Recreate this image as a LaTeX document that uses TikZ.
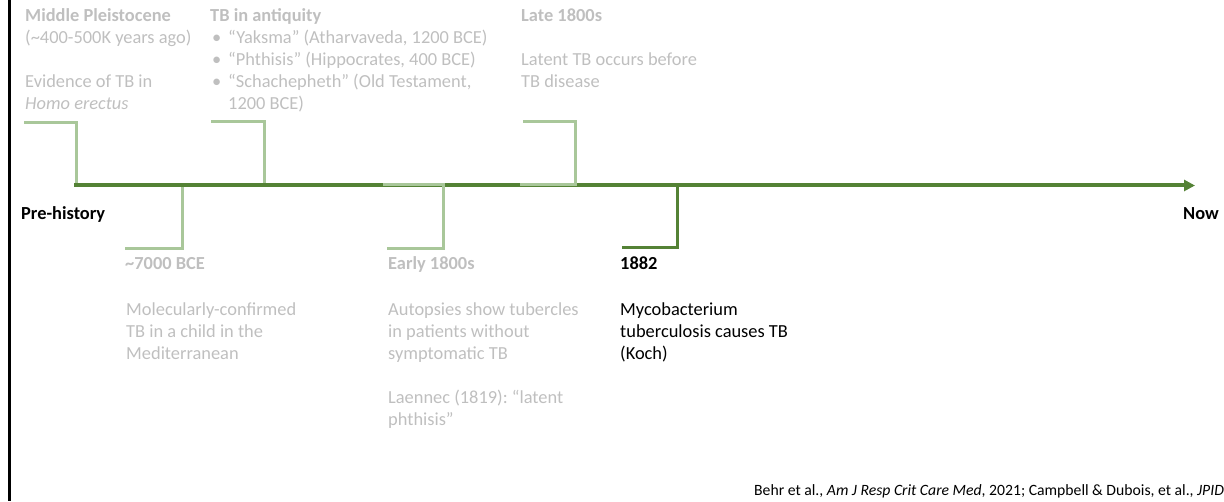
\documentclass[tikz,border=0pt]{standalone}
\usepackage{fontspec}
\setmainfont{Carlito}
\usetikzlibrary{arrows.meta}
\definecolor{axisgreen}{HTML}{548235}
\definecolor{palegreen}{HTML}{A9C79A}
\definecolor{fadedtext}{HTML}{BFBFBF}
\frenchspacing
% stacked lines whose baseline is the baseline of the first line
\newcommand{\tllines}[1]{\begin{tabular}[t]{@{}l@{}}#1\end{tabular}}
\begin{document}
\begin{tikzpicture}[x=1pt,y=-1pt,
  txt/.style={anchor=base west,inner sep=0pt,
    font=\fontsize{18.4}{22}\selectfont},
  faded/.style={txt,text=fadedtext},
  fadedhead/.style={faded,font=\fontsize{18.4}{22}\selectfont\bfseries},
  darkhead/.style={txt,text=black,font=\fontsize{18.4}{22}\selectfont\bfseries},
  axis/.style={draw=axisgreen,line width=4pt},
  palebracket/.style={draw=palegreen,line width=3pt},
  darkbracket/.style={draw=axisgreen,line width=3pt},
]
\useasboundingbox (0,0) rectangle (1224,502);
\clip (0,0) rectangle (1224,502);

% left frame edge
\coordinate (frametop) at (9.5,0);
\coordinate (framebot) at (9.5,501);
\draw[line width=3pt,black] (frametop) -- (framebot);

% anchor points of the timeline
\coordinate (start) at (74,185.5);
\coordinate (finish) at (1195,185.5);

% brackets above the axis
\coordinate (mp-tab) at (24,123);
\coordinate (mp-foot) at (76,185.5);
\coordinate (ant-tab) at (211,122);
\coordinate (ant-foot) at (264,185.5);
\coordinate (late-tab) at (523,122);
\coordinate (late-foot) at (575,185.5);
\coordinate (late-back) at (520,184.5);

% brackets below the axis
\coordinate (bce-tab) at (125,249);
\coordinate (bce-foot) at (182,185.5);
\coordinate (early-tab) at (387,249);
\coordinate (early-foot) at (443,185.5);
\coordinate (early-back) at (383,184.5);
\coordinate (koch-tab) at (622,248);
\coordinate (koch-foot) at (677,185.5);

\draw[palebracket] (mp-tab) -| (mp-foot);
\draw[palebracket] (ant-tab) -| (ant-foot);
\draw[palebracket] (bce-tab) -| (bce-foot);

% main axis
\draw[axis,-{Triangle[length=11pt,width=11pt]}] (start) -- (finish);

\draw[palebracket] (early-tab) -| (early-foot |- early-back) -- (early-back);
\draw[palebracket] (late-tab) -| (late-foot |- late-back) -- (late-back);
\draw[darkbracket] (koch-tab) -| (koch-foot);

% axis end labels
\node[darkhead] (prehistory) at (21,220) {Pre-history};
\node[darkhead] (now) at (1183,220) {Now};

% Middle Pleistocene
\node[fadedhead] (mp-head) at (25,22) {Middle Pleistocene};
\node[faded] (mp-date) at (25,44) {(\textasciitilde400-500K years ago)};
\node[faded] (mp-text) at (25,88) {\tllines{Evidence of TB in\\\itshape Homo erectus}};

% TB in antiquity
\node[fadedhead] (ant-head) at (210,22) {TB in antiquity};
\node[faded] (ant-bullets) at (212,44) {\tllines{•\\•\\•}};
\node[faded] (ant-text) at (228,44) {\tllines{“Yaksma” (Atharvaveda, 1200 BCE)\\“Phthisis” (Hippocrates, 400 BCE)\\“Schachepheth” (Old Testament,\\1200 BCE)}};

% Late 1800s
\node[fadedhead] (late-head) at (521,22) {Late 1800s};
\node[faded] (late-text) at (521,66) {\tllines{Latent TB occurs before\\TB disease}};

% ~7000 BCE
\node[fadedhead] (bce-head) at (125,270) {\textasciitilde7000 BCE};
\node[faded] (bce-text) at (126,316) {\tllines{Molecularly-confirmed\\TB in a child in the\\Mediterranean}};

% Early 1800s
\node[fadedhead] (early-head) at (388,270) {Early 1800s};
\node[faded] (early-text) at (388,316) {\tllines{Autopsies show tubercles\\in patients without\\symptomatic TB\\ \\Laennec (1819): “latent\\phthisis”}};

% 1882
\node[darkhead] (koch-head) at (620,270) {1882};
\node[txt,text=black] (koch-text) at (620,316) {\tllines{Mycobacterium\\tuberculosis causes TB\\(Koch)}};

% references
\node[anchor=base west,inner sep=0pt,font=\fontsize{15.7}{18}\selectfont] (refs) at (754,496)
  {Behr et al., \textit{Am J Resp Crit Care Med}, 2021; Campbell \& Dubois, et al., \textit{JPID}};
\end{tikzpicture}
\end{document}
